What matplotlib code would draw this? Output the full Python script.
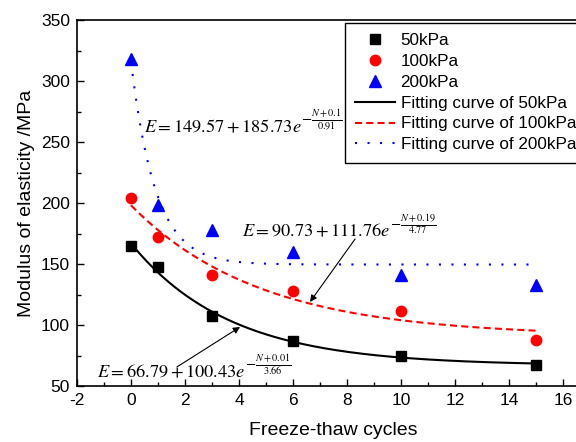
import numpy as np
import matplotlib
matplotlib.use("Agg")
import matplotlib.pyplot as plt
from matplotlib.ticker import MultipleLocator

plt.rcParams['font.family'] = ['Liberation Sans', 'DejaVu Sans']
plt.rcParams['mathtext.fontset'] = 'stix'
plt.rcParams['axes.unicode_minus'] = False

# Data
cycles = [0, 1, 3, 6, 10, 15]
e_50kpa = [165, 147.5, 107, 87, 75, 67]
e_100kpa = [204, 172, 141, 128, 111.5, 88]
e_200kpa = [318, 198, 178, 160, 141, 133]

# Fitting parameters E = a + b*exp(-(N+c)/d)
fit_50 = [66.79, 100.43, 0.01, 3.66]
fit_100 = [90.73, 111.76, 0.19, 4.77]
fit_200 = [149.57, 185.73, 0.1, 0.91]

labels_pts = ['50kPa', '100kPa', '200kPa']
labels_fit = ['Fitting curve of 50kPa', 'Fitting curve of 100kPa', 'Fitting curve of 200kPa']

def fit(p, n):
    a, b, c, d = p
    return a + b * np.exp(-(n + c) / d)

fig = plt.figure(figsize=(5.76, 4.42), dpi=100)
ax = fig.add_axes([77/576, 56/442, 513/576, 366/442])

h1, = ax.plot(cycles, e_50kpa, 's', color='black', ms=6.5, ls='none', label=labels_pts[0], zorder=3)
h2, = ax.plot(cycles, e_100kpa, 'o', color='red', ms=7.5, ls='none', label=labels_pts[1], zorder=3)
h3, = ax.plot(cycles, e_200kpa, '^', color='blue', ms=8, ls='none', label=labels_pts[2], zorder=3)

n = np.linspace(0, 15, 300)
l1, = ax.plot(n, fit(fit_50, n), '-', color='black', lw=1.5, label=labels_fit[0])
l2, = ax.plot(n, fit(fit_100, n), color='red', lw=1.5, ls=(0, (3.4, 2)), label=labels_fit[1])
l3, = ax.plot(n, fit(fit_200, n), color='blue', lw=1.5, ls=(0, (1, 5)), label=labels_fit[2])

ax.set_xlim(-2, 17)
ax.set_ylim(50, 350)
ax.xaxis.set_major_locator(MultipleLocator(2))
ax.xaxis.set_minor_locator(MultipleLocator(1))
ax.yaxis.set_major_locator(MultipleLocator(50))
ax.yaxis.set_minor_locator(MultipleLocator(25))
ax.tick_params(which='both', direction='in', labelsize=12.5, top=False, right=False)
ax.tick_params(which='major', length=5, width=1, pad=5)
ax.tick_params(which='minor', length=3, width=1)
for s in ax.spines.values():
    s.set_linewidth(1.2)

ax.set_xlabel('Freeze-thaw cycles', fontsize=14, labelpad=10)
ax.set_ylabel('Modulus of elasticity /MPa', fontsize=14, labelpad=4)

# Equations: main part + raised exponent fraction
def equation(x, y, main, num, den):
    t = ax.text(x, y, main, fontsize=13.2, va='center', ha='left')
    ax.annotate(r'$-\frac{%s}{%s}$' % (num, den), xy=(1, 1), xycoords=t,
                xytext=(-0.5, -0.5), textcoords='offset points',
                fontsize=10.5, va='center', ha='left')
    return t

equation(0.50, 261.5, r'$E=149.57+185.73e$', 'N+0.1', '0.91')
equation(4.11, 176.2, r'$E=90.73+111.76e$', 'N+0.19', '4.77')
equation(-1.26, 60.7, r'$E=66.79+100.43e$', 'N+0.01', '3.66')

arrow_kw = dict(arrowstyle='-|>', color='black', lw=0.8, mutation_scale=10, shrinkA=0, shrinkB=0)
ax.annotate('', xy=(6.63, 118.9), xytext=(8.3, 170.5), arrowprops=arrow_kw)
ax.annotate('', xy=(4.04, 98.4), xytext=(1.70, 65.6), arrowprops=arrow_kw)

leg = ax.legend(handles=[h1, h2, h3, l1, l2, l3], loc='upper left',
                bbox_to_anchor=(345/576, 1 - 23/442), bbox_transform=fig.transFigure,
                fontsize=12.3, frameon=True, fancybox=False, framealpha=1,
                edgecolor='black', numpoints=1, handlelength=2.3, handletextpad=0.35,
                labelspacing=0.34, borderpad=0.6, borderaxespad=0)
leg.get_frame().set_linewidth(1.0)

fig.savefig('out.png', dpi=100)
